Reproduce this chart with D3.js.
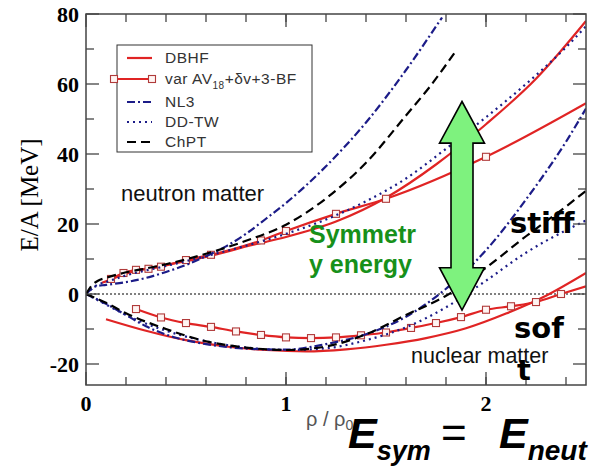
<!DOCTYPE html>
<html>
<head>
<meta charset="utf-8">
<script src="https://cdn.jsdelivr.net/npm/d3@7"></script>
<style>
body { margin: 0; background: #fff; }
svg { display: block; }
</style>
</head>
<body>
<div id="chart"></div>
<script>
// ---- data ----
var xTicks = [0, 1, 2];
var yTicks = [-20, 0, 20, 40, 60, 80];

var dbhfNeutX = [0.08, 0.1, 0.2, 0.3, 0.4, 0.5, 0.6, 0.7, 0.8, 0.9, 1.0, 1.25, 1.5, 1.75, 2.0, 2.25, 2.5];
var dbhfNeutY = [3.2, 3.6, 5.8, 7.2, 8.3, 9.4, 10.6, 12, 13.6, 14.9, 16.3, 20.7, 27.5, 37, 48.5, 61.5, 78];
var dbhfNuclX = [0.1, 0.3, 0.5, 0.7, 0.9, 1.1, 1.3, 1.5, 1.7, 1.9, 2.1, 2.3, 2.5];
var dbhfNuclY = [-7.2, -10.5, -13.2, -15, -16, -16.4, -15.8, -14.5, -12.6, -9.8, -5.6, -0.5, 6];

var avNeutX = [0.125, 0.1875, 0.25, 0.3125, 0.375, 0.5, 0.625, 0.875, 1.0, 1.25, 1.5, 2.0, 2.5];
var avNeutY = [4.3, 6.0, 6.9, 7.2, 7.8, 9.7, 11.2, 15.3, 18.0, 22.9, 27.2, 39.2, 54.5];
var avNuclX = [0.25, 0.375, 0.5, 0.625, 0.75, 0.875, 1.0, 1.125, 1.25, 1.375, 1.5, 1.625, 1.75, 1.875, 2.0, 2.125, 2.25, 2.375, 2.5];
var avNuclY = [-4.3, -6.7, -8.3, -9.4, -10.7, -11.7, -12.4, -12.6, -12.4, -11.8, -11, -9.7, -8.3, -6.6, -4.5, -3.5, -2.3, 0, 2.2];

var nl3NeutX = [0, 0.05, 0.1, 0.2, 0.3, 0.4, 0.5, 0.6, 0.7, 0.8, 0.9, 1.0, 1.2, 1.4, 1.6, 1.78];
var nl3NeutY = [0, 2.2, 2.6, 3.4, 4.6, 6.3, 8.3, 10.8, 13.6, 17.2, 21.5, 26, 36.5, 49, 64, 79];
var nl3NuclX = [0, 0.1, 0.2, 0.3, 0.45, 0.6, 0.8, 1.0, 1.2, 1.4, 1.6, 1.8, 2.0, 2.2, 2.4, 2.5];
var nl3NuclY = [0, -2.8, -6, -9.2, -12.5, -14.3, -15.6, -15.9, -14.3, -11.5, -6.5, 1.5, 12.5, 27, 43.5, 53];

var ddNeutX = [0, 0.05, 0.1, 0.2, 0.4, 0.6, 0.8, 1.0, 1.2, 1.4, 1.6, 1.8, 2.0, 2.2, 2.4, 2.5];
var ddNeutY = [0, 2.4, 3.4, 5.3, 8, 10.8, 13.8, 17.2, 21.3, 26.5, 33, 41.5, 50.5, 60, 70.5, 76.5];
var ddNuclX = [0, 0.1, 0.2, 0.4, 0.6, 0.8, 1.0, 1.2, 1.4, 1.6, 1.8, 2.0, 2.2, 2.4, 2.5];
var ddNuclY = [0, -3, -6, -10.5, -13.5, -15.3, -16, -15.5, -13.2, -9.5, -3.8, 3.8, 11.8, 18.2, 21];

var chptNeutX = [0, 0.03, 0.06, 0.1, 0.2, 0.3, 0.4, 0.6, 0.8, 1.0, 1.2, 1.4, 1.6, 1.72, 1.85];
var chptNeutY = [0, 2.5, 3.8, 4.6, 6.2, 7.3, 8.5, 11.5, 15.2, 19.8, 27.3, 37.5, 51, 59.3, 69.5];
var chptNuclX = [0, 0.1, 0.2, 0.4, 0.6, 0.8, 1.0, 1.2, 1.4, 1.6, 1.8, 2.0, 2.2, 2.4, 2.5];
var chptNuclY = [0, -2.5, -5.5, -10, -13.5, -15.3, -16, -15, -11.5, -6, -0.5, 7.5, 16.5, 25, 29.5];

var legendLabels = ["DBHF", "var AV", "NL3", "DD-TW", "ChPT"];

// arrow between the two branches (data units)
var arrowX = 1.88;
var arrowTop = 55, arrowTopBase = 43.1, arrowBotBase = 7.5, arrowBot = -4.6;

var width = 597, height = 470;
var svg = d3.select("#chart").append("svg").attr("width", width).attr("height", height);

var x = d3.scaleLinear().domain([0, 2.5]).range([86, 586]);
var y = d3.scaleLinear().domain([-26, 80]).range([385, 14]);

function zip(xs, ys) { return xs.map(function(d, i) { return [d, ys[i]]; }); }

var red = "#e02424", navy = "#1c1c88";
var series = [
  {x: dbhfNeutX, y: dbhfNeutY, c: red, dash: null},
  {x: dbhfNuclX, y: dbhfNuclY, c: red, dash: null},
  {x: avNeutX, y: avNeutY, c: red, dash: null, mark: true},
  {x: avNuclX, y: avNuclY, c: red, dash: null, mark: true},
  {x: nl3NeutX, y: nl3NeutY, c: navy, dash: "8,3,2,3"},
  {x: nl3NuclX, y: nl3NuclY, c: navy, dash: "8,3,2,3"},
  {x: ddNeutX, y: ddNeutY, c: navy, dash: "2,4"},
  {x: ddNuclX, y: ddNuclY, c: navy, dash: "2,4"},
  {x: chptNeutX, y: chptNeutY, c: "#000", dash: "9,5"},
  {x: chptNuclX, y: chptNuclY, c: "#000", dash: "9,5"}
];

svg.append("clipPath").attr("id", "plot")
  .append("rect").attr("x", 86).attr("y", 14).attr("width", 500).attr("height", 371);

// zero line
svg.append("line")
  .attr("x1", x(0)).attr("x2", x(2.5)).attr("y1", y(0)).attr("y2", y(0))
  .attr("stroke", "#000").attr("stroke-width", 1).attr("stroke-dasharray", "2,2");

var line = d3.line()
  .x(function(d) { return x(d[0]); })
  .y(function(d) { return y(d[1]); })
  .curve(d3.curveMonotoneX);

var curves = svg.append("g").attr("clip-path", "url(#plot)");
series.forEach(function(s) {
  curves.append("path")
    .attr("d", line(zip(s.x, s.y)))
    .attr("fill", "none")
    .attr("stroke", s.c)
    .attr("stroke-width", 2.2)
    .attr("stroke-dasharray", s.dash);
  if (s.mark) {
    curves.selectAll(null)
      .data(zip(s.x, s.y).filter(function(d) { return d[0] < 2.45; }))
      .enter().append("rect")
        .attr("x", function(d) { return x(d[0]) - 3.5; })
        .attr("y", function(d) { return y(d[1]) - 3.5; })
        .attr("width", 7).attr("height", 7)
        .attr("fill", "#fff4f2").attr("stroke", "#b03a3a").attr("stroke-width", 1.1);
  }
});

// frame
svg.append("rect")
  .attr("x", 86).attr("y", 14).attr("width", 500).attr("height", 371)
  .attr("fill", "none").attr("stroke", "#444").attr("stroke-width", 1.5);

// ticks on all four sides, pointing inward
var xMinor = d3.range(0.2, 2.5, 0.2);
var yMinor = d3.range(-10, 80, 20);
var tg = svg.append("g").attr("stroke", "#444").attr("stroke-width", 1.3);
function vtick(v, len) {
  tg.append("line").attr("x1", x(v)).attr("x2", x(v)).attr("y1", 385).attr("y2", 385 - len);
  tg.append("line").attr("x1", x(v)).attr("x2", x(v)).attr("y1", 14).attr("y2", 14 + len);
}
function htick(v, len) {
  tg.append("line").attr("y1", y(v)).attr("y2", y(v)).attr("x1", 86).attr("x2", 86 + len);
  tg.append("line").attr("y1", y(v)).attr("y2", y(v)).attr("x1", 586).attr("x2", 586 - len);
}
xMinor.forEach(function(v) { vtick(v, 8); });
xTicks.forEach(function(v) { vtick(v, 13); });
yMinor.forEach(function(v) { htick(v, 8); });
yTicks.forEach(function(v) { htick(v, 13); });

svg.selectAll(".ylab").data(yTicks).enter().append("text")
  .attr("x", 79).attr("y", function(d) { return y(d); })
  .attr("dy", "0.35em").attr("text-anchor", "end")
  .style("font", "bold 22px 'Liberation Serif', serif")
  .text(function(d) { return d; });

svg.selectAll(".xlab").data(xTicks).enter().append("text")
  .attr("x", function(d) { return x(d); }).attr("y", 411)
  .attr("text-anchor", "middle")
  .style("font", "bold 22px 'Liberation Serif', serif")
  .text(function(d) { return d; });

svg.append("text")
  .attr("transform", "translate(38,195) rotate(-90)")
  .attr("text-anchor", "middle")
  .style("font", "25px 'Liberation Serif', serif")
  .text("E/A [MeV]");

var xl = svg.append("text").attr("x", 306).attr("y", 426)
  .style("font", "20px 'Liberation Sans', sans-serif").attr("fill", "#555");
xl.append("tspan").text("ρ / ρ");
xl.append("tspan").attr("dy", 4).style("font-size", "14px").text("0");

// legend
var lg = svg.append("g");
lg.append("rect").attr("x", 117).attr("y", 45).attr("width", 195).attr("height", 107)
  .attr("fill", "#fff").attr("stroke", "#333").attr("stroke-width", 1);
var legStyle = [series[0], series[2], series[4], series[6], series[8]];
var legY = [58, 79, 102, 122, 142];
legStyle.forEach(function(s, i) {
  var x1 = s.mark ? 114 : 127, x2 = 152;
  lg.append("line").attr("x1", x1).attr("x2", x2).attr("y1", legY[i]).attr("y2", legY[i])
    .attr("stroke", s.c).attr("stroke-width", 2.2).attr("stroke-dasharray", s.dash);
  if (s.mark) {
    [x1, x2].forEach(function(px) {
      lg.append("rect").attr("x", px - 3.5).attr("y", legY[i] - 3.5).attr("width", 7).attr("height", 7)
        .attr("fill", "#fff4f2").attr("stroke", "#b03a3a").attr("stroke-width", 1.1);
    });
  }
  var t = lg.append("text").attr("x", 165).attr("y", legY[i]).attr("dy", "0.35em")
    .style("font", "15.5px 'Liberation Sans', sans-serif").attr("fill", "#333")
    .attr("letter-spacing", "0.5px")
    .text(legendLabels[i]);
  if (i == 1) {
    t.append("tspan").attr("dy", 5).style("font-size", "10px").text("18");
    t.append("tspan").attr("dy", -5).text("+δv+3-BF");
  }
});

// texts in the plot
svg.append("text").attr("x", 121).attr("y", 201)
  .style("font", "22px 'Liberation Sans', sans-serif").attr("fill", "#111")
  .text("neutron matter");
svg.append("text").attr("x", 411).attr("y", 363)
  .style("font", "21.5px 'Liberation Sans', sans-serif").attr("fill", "#111")
  .text("nuclear matter");

var sym = svg.append("text").style("font", "bold 25px 'Liberation Sans', sans-serif").attr("fill", "#17901a");
sym.append("tspan").attr("x", 309).attr("y", 243).text("Symmetr");
sym.append("tspan").attr("x", 309).attr("y", 273).text("y energy");

var soft = svg.append("text").style("font", "bold 29px 'DejaVu Sans', sans-serif").attr("fill", "#000");
soft.append("tspan").attr("x", 510).attr("y", 233).text("stiff");
soft.append("tspan").attr("x", 514).attr("y", 338).text("sof");
soft.append("tspan").attr("x", 517).attr("y", 380).text("t");

// double arrow
var ax = x(arrowX), hw = 22.5, sw = 11;
var pts = [
  [ax, y(arrowTop)], [ax + hw, y(arrowTopBase)], [ax + sw, y(arrowTopBase)],
  [ax + sw, y(arrowBotBase)], [ax + hw, y(arrowBotBase)], [ax, y(arrowBot)],
  [ax - hw, y(arrowBotBase)], [ax - sw, y(arrowBotBase)], [ax - sw, y(arrowTopBase)],
  [ax - hw, y(arrowTopBase)]
];
svg.append("polygon")
  .attr("points", pts.map(function(p) { return p.join(","); }).join(" "))
  .attr("fill", "#7ef27e").attr("stroke", "#000").attr("stroke-width", 1.6)
  .attr("stroke-linejoin", "miter");

// formula at the bottom
var eq = svg.append("text").attr("y", 448).style("font-family", "'Liberation Sans', sans-serif").attr("fill", "#000");
eq.append("tspan").attr("x", 348).style("font", "italic bold 43px 'Liberation Sans', sans-serif").text("E");
eq.append("tspan").attr("dy", 12).style("font", "italic bold 27px 'Liberation Sans', sans-serif").text("sym");
eq.append("tspan").attr("dy", -12).attr("x", 441).style("font", "44px 'Liberation Sans', sans-serif").text("=");
eq.append("tspan").attr("x", 499).style("font", "italic bold 43px 'Liberation Sans', sans-serif").text("E");
eq.append("tspan").attr("dy", 12).style("font", "italic bold 28px 'Liberation Sans', sans-serif").text("neut");
</script>
</body>
</html>
